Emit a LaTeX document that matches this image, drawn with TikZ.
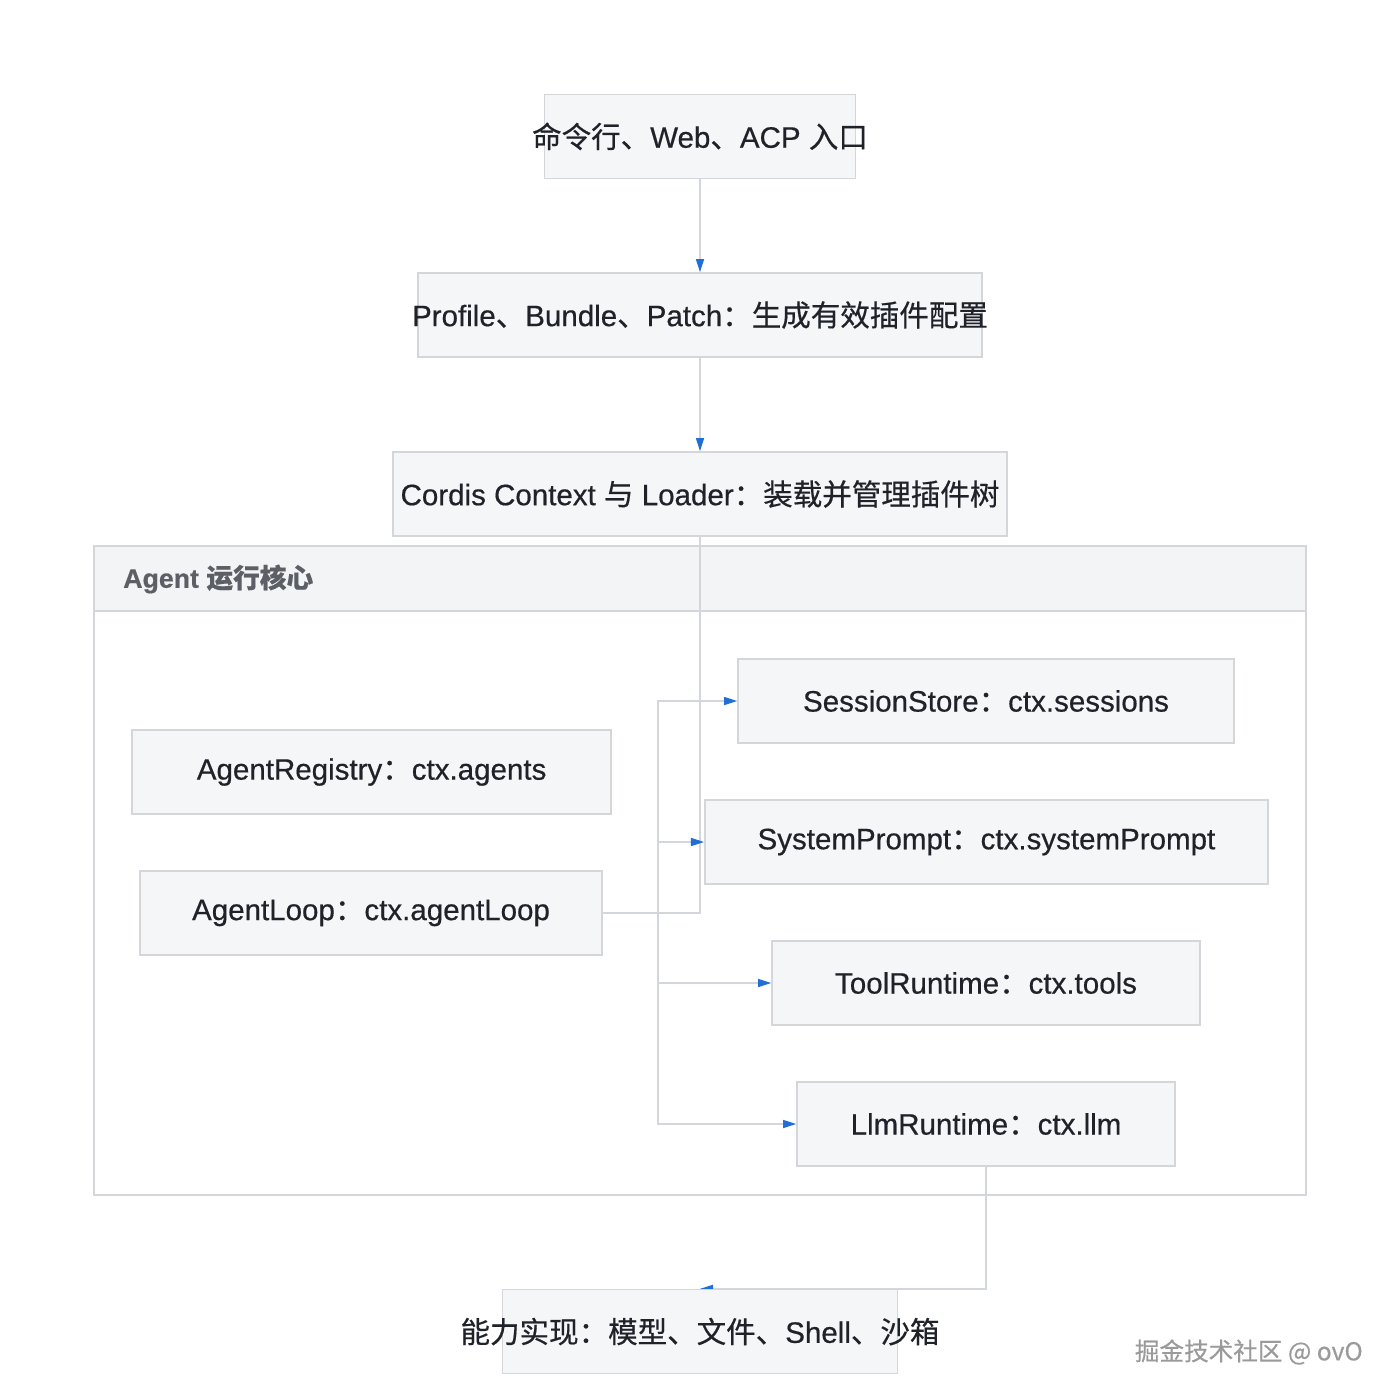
\documentclass[tikz,border=0pt]{standalone}
\usepackage{fontspec}
\setmainfont{Liberation Sans}[FakeBold=0.5]
\newfontfamily\cjk{Noto Sans CJK SC}[FakeBold=0.5]
\usetikzlibrary{arrows.meta, positioning}
\definecolor{boxfill}{HTML}{F5F6F7}
\definecolor{boxline}{HTML}{D4D6D9}
\definecolor{edgegray}{HTML}{D3D6DA}
\definecolor{tipblue}{HTML}{1F6FD6}
\definecolor{inkdark}{HTML}{1F2329}
\definecolor{groupfill}{HTML}{F3F4F5}
\definecolor{titlegray}{HTML}{5C6066}
\definecolor{markgray}{HTML}{9A9A9A}
\pgfdeclarelayer{bg}
\pgfdeclarelayer{edges}
\pgfsetlayers{bg,edges,main}
\newcommand\zh[1]{{\cjk #1}}
\newcommand\boxtext[1]{\makebox[0pt]{#1}}

\begin{document}
\begin{tikzpicture}[
  plugbox/.style={draw=boxline, fill=boxfill, line width=1.1pt, minimum width=#1, minimum height=2.1cm, inner sep=0pt, text=inkdark, font=\fontsize{21}{25}\selectfont},
  flow/.style={draw=edgegray, line width=1.1pt, -{Triangle[length=3.3mm, width=2mm, color=tipblue]}},
  flow plain/.style={draw=edgegray, line width=1.1pt}
]
  \useasboundingbox (0,0) rectangle (35,-35);

  % Entry chain
  \node[plugbox=7.775cm] (entry) at (17.5,-3.41) {\boxtext{\zh{命令行、}Web\zh{、}ACP \zh{入口}}};
  \node[plugbox=14.1cm] (profile) at (17.5,-7.875) {\boxtext{Profile\zh{、}Bundle\zh{、}Patch\zh{：生成有效插件配置}}};
  \node[plugbox=15.35cm] (cordis) at (17.5,-12.35) {\boxtext{Cordis Context \zh{与} Loader\zh{：装载并管理插件树}}};

  % Agent core group
  \begin{pgfonlayer}{bg}
    \fill[white] (2.35,-13.65) rectangle (32.65,-29.875);
    \fill[groupfill] (2.35,-13.65) rectangle (32.65,-15.275);
    \draw[boxline, line width=1.1pt] (2.35,-15.275) -- (32.65,-15.275);
    \draw[boxline, line width=1.1pt] (2.35,-13.65) rectangle (32.65,-29.875);
    \node[anchor=west, inner sep=0pt, text=titlegray, font=\fontsize{19}{23}\selectfont\bfseries] (coretitle) at (3.075,-14.475) {Agent \zh{运行核心}};
  \end{pgfonlayer}

  \node[plugbox=11.975cm] (registry) at (9.29,-19.3) {\boxtext{AgentRegistry\zh{：}ctx.agents}};
  \node[plugbox=11.55cm] (loop) at (9.275,-22.825) {\boxtext{AgentLoop\zh{：}ctx.agentLoop}};
  \node[plugbox=12.4cm] (session) at (24.65,-17.525) {\boxtext{SessionStore\zh{：}ctx.sessions}};
  \node[plugbox=14.075cm] (sysprompt) at (24.66,-21.05) {\boxtext{SystemPrompt\zh{：}ctx.systemPrompt}};
  \node[plugbox=10.7cm] (tool) at (24.65,-24.575) {\boxtext{ToolRuntime\zh{：}ctx.tools}};
  \node[plugbox=9.45cm] (llm) at (24.65,-28.1) {\boxtext{LlmRuntime\zh{：}ctx.llm}};
  \coordinate (fork) at (16.45,-22.825);

  % Capabilities
  \node[plugbox=9.875cm] (ability) at (17.5,-33.29) {\boxtext{\zh{能力实现：模型、文件、}Shell\zh{、沙箱}}};

  \node[text=markgray, font=\cjk\fontsize{17.5}{21}\selectfont] (mark) at (31.22,-33.8) {掘金技术社区 @ ovO};

  % Connectors
  \begin{pgfonlayer}{edges}
    \draw[flow] (entry.south) -- (profile.north);
    \draw[flow] (profile.south) -- (cordis.north);
    \draw[flow plain] (cordis.south) |- (loop.east);
    \foreach \target in {session, sysprompt, tool, llm} {
      \draw[flow] (loop.east) -- (fork) |- (\target.west);
    }
    \draw[flow] (llm.south) |- (ability.north);
  \end{pgfonlayer}
\end{tikzpicture}
\end{document}
